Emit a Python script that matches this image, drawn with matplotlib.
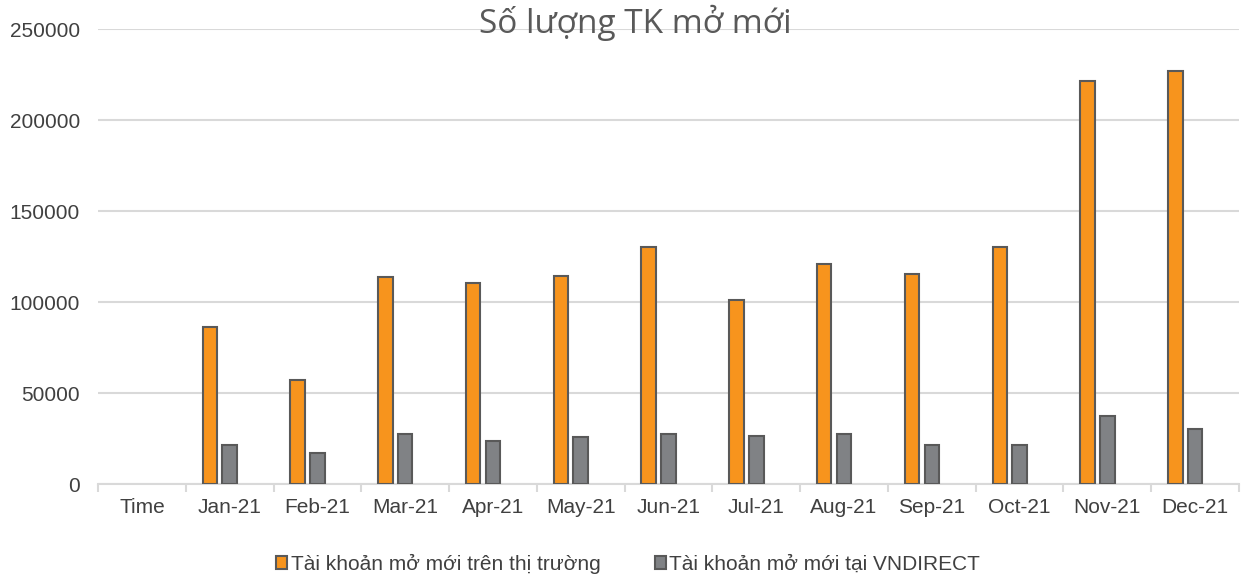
import numpy as np
import matplotlib
matplotlib.use("Agg")
import matplotlib.pyplot as plt
from matplotlib.patches import Patch

# values (accounts opened per month, 2021)
categories = ["Time", "Jan-21", "Feb-21", "Mar-21", "Apr-21", "May-21", "Jun-21",
              "Jul-21", "Aug-21", "Sep-21", "Oct-21", "Nov-21", "Dec-21"]
market = [np.nan, 86500, 57200, 114000, 110700, 114400, 130500,
          101200, 121000, 115300, 130500, 221600, 227300]
vndirect = [np.nan, 21400, 16900, 27300, 23600, 25700, 27300,
            26600, 27300, 21400, 21400, 37400, 30000]
series_names = ["Tài khoản mở mới trên thị trường", "Tài khoản mở mới tại VNDIRECT"]
yticks = [0, 50000, 100000, 150000, 200000, 250000]

ORANGE, GREY, EDGE = "#F7941D", "#808285", "#595959"
TXT, TITLE, GRID = "#404040", "#595959", "#D9D9D9"
plt.rcParams['font.family'] = ['Liberation Sans', 'DejaVu Sans']

fig = plt.figure(figsize=(12.43, 5.79), dpi=100)
ax = fig.add_axes([98 / 1243, 1 - 484 / 579, 1141 / 1243, (484 - 29.3) / 579])

x = np.arange(len(categories))
w = 0.165
ax.bar(x - 0.2256, market, w, color=ORANGE, edgecolor=EDGE, linewidth=1.5, zorder=3)
ax.bar(x, vndirect, w, color=GREY, edgecolor=EDGE, linewidth=1.5, zorder=3)

ax.set_xlim(-0.5, len(categories) - 0.5)
ax.set_ylim(0, 250000)
ax.set_yticks(yticks)
ax.set_yticklabels([str(v) for v in yticks])
ax.grid(axis="y", color=GRID, linewidth=1.5, zorder=0)
ax.set_axisbelow(True)

# category boundaries as ticks, labels at centers
ax.set_xticks(np.arange(-0.5, len(categories), 1))
ax.set_xticklabels([])
ax.set_xticks(x, minor=True)
ax.set_xticklabels(categories, minor=True)
ax.tick_params(axis="x", which="major", length=6, color=GRID, width=1.5)
ax.tick_params(axis="x", which="minor", length=0, pad=10, labelsize=15, labelcolor=TXT)
ax.tick_params(axis="y", length=0, pad=13, labelsize=15, labelcolor=TXT)

for sp in ["top", "right", "left"]:
    ax.spines[sp].set_visible(False)
ax.spines["bottom"].set_color(GRID)
ax.spines["bottom"].set_linewidth(1.5)

fig.text(0.511, 1 - 33 / 579, "Số lượng TK mở mới", ha="center", va="baseline",
         fontsize=24, color=TITLE, family=["Open Sans", "DejaVu Sans"])

handles = [Patch(facecolor=ORANGE, edgecolor=EDGE, linewidth=1.5),
           Patch(facecolor=GREY, edgecolor=EDGE, linewidth=1.5)]
fig.legend(handles, series_names, loc="center", bbox_to_anchor=(628 / 1243, 1 - 564 / 579),
           ncol=2, frameon=False, fontsize=15, labelcolor=TXT,
           handlelength=0.55, handleheight=0.55, handletextpad=0.15, columnspacing=2.6)

fig.savefig("out.png", dpi=100)
